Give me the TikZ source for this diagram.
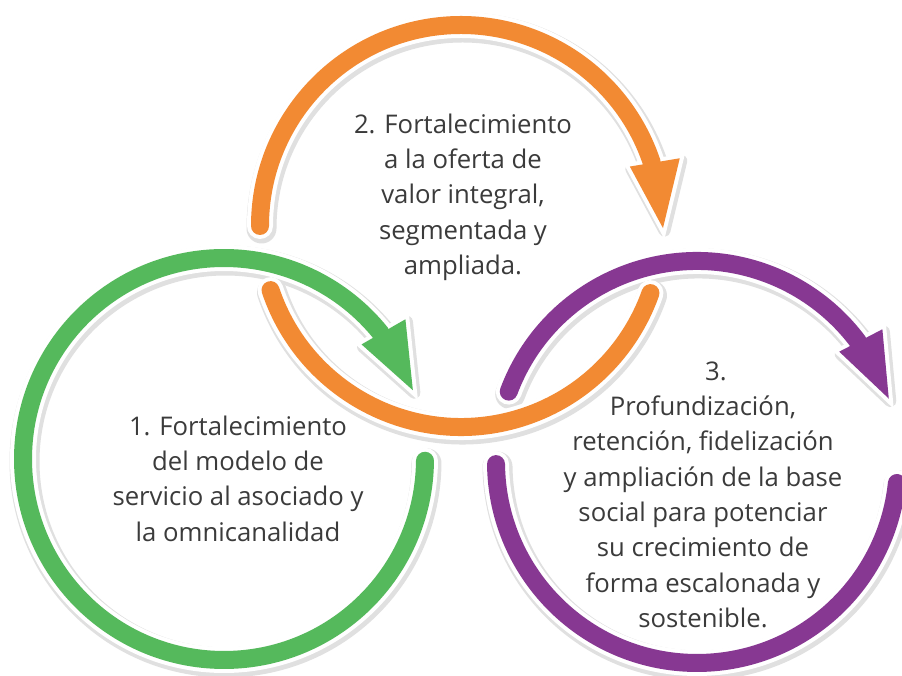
\documentclass[tikz,border=0pt]{standalone}
\usepackage{fontspec}
\setmainfont{Open Sans}
\definecolor{cgreen}{HTML}{55B95C}
\definecolor{corange}{HTML}{F28A33}
\definecolor{cpurple}{HTML}{873892}
\definecolor{ctext}{HTML}{3B3B3B}
\tikzset{
  band/.style={draw=#1, line width=18pt, line cap=round},
  bandwhite/.style={draw=white, line width=26pt, line cap=round},
  bandshadow/.style={draw=black!12, line width=30pt, line cap=round, shift={(1.5pt,-2.5pt)}},
  headfill/.style={fill=#1},
  headwhite/.style={fill=white, draw=white, line width=8pt, line join=miter},
  headshadow/.style={fill=black!12, draw=black!12, line width=12pt, line join=round, shift={(1.5pt,-2.5pt)}},
  txt/.style={font=\fontsize{25.7pt}{35.3pt}\selectfont, text=ctext, align=center, inner sep=0pt},
}
\newcommand\greenarrow[2]{%
  \begin{scope}[shift={(c1)}]
    \draw[#1] (-0.5:201pt) arc[start angle=-0.5, end angle=-321.2, radius=201pt];
    \path[#2] (39.8:179pt) -- (20:201pt) -- (37.6:229pt) -- cycle;
  \end{scope}}
\newcommand\orangearrow[2]{%
  \begin{scope}[shift={(c2)}]
    \draw[#1] (180:201pt) arc[start angle=180, end angle=18.4, radius=201pt];
    \path[#2] (19.4:179pt) -- (-0.6:202pt) -- (17.2:229pt) -- cycle;
    \draw[#1] (198.6:201pt) arc[start angle=198.6, end angle=340.5, radius=201pt];
  \end{scope}}
\newcommand\purplearrow[2]{%
  \begin{scope}[shift={(c3)}]
    \draw[#1] (159.5:201pt) arc[start angle=159.5, end angle=36.8, radius=201pt];
    \path[#2] (37.8:180pt) -- (18.3:202pt) -- (35.6:228pt) -- cycle;
    \draw[#1] (180.6:201pt) arc[start angle=180.6, end angle=354, radius=201pt];
  \end{scope}}
\begin{document}
\begin{tikzpicture}
  \useasboundingbox[fill=white] (0,0) rectangle (902pt,676pt);
  \coordinate (c1) at (224pt,217pt);
  \coordinate (c2) at (461pt,450pt);
  \coordinate (c3) at (697pt,214pt);
  % shadows
  \purplearrow{bandshadow}{headshadow}
  \orangearrow{bandshadow}{headshadow}
  \greenarrow{bandshadow}{headshadow}
  % purple
  \purplearrow{bandwhite}{headwhite}
  \purplearrow{band=cpurple}{headfill=cpurple}
  % orange
  \orangearrow{bandwhite}{headwhite}
  \orangearrow{band=corange}{headfill=corange}
  % green
  \greenarrow{bandwhite}{headwhite}
  \greenarrow{band=cgreen}{headfill=cgreen}
  % texts
  \node[txt, anchor=north] (t1) at (238pt,260.5pt) {1. Fortalecimiento\\del modelo de\\servicio al asociado y\\la omnicanalidad};
  \node[txt, anchor=north] (t2) at (463pt,562.5pt) {2. Fortalecimiento\\a la oferta de\\valor integral,\\segmentada y\\ampliada.};
  \node[txt, anchor=north] (t3) at (703pt,314.5pt) {\hspace*{26pt}3.\\Profundización,\\retención, fidelización\\y ampliación de la base\\social para potenciar\\su crecimiento de\\forma escalonada y\\sostenible.};
\end{tikzpicture}
\end{document}
